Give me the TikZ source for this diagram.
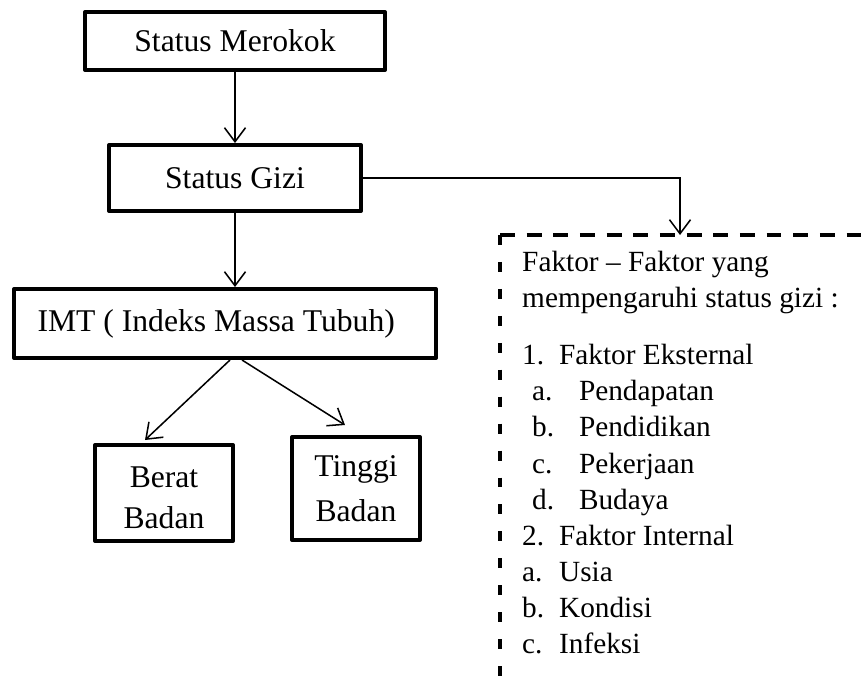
\documentclass[tikz,border=0pt]{standalone}
\usepackage{fontspec}
\setmainfont{Liberation Serif}
\usetikzlibrary{arrows.meta,calc}

\begin{document}
\begin{tikzpicture}[
        x=0.03cm, y=-0.03cm,
        >={Straight Barb[length=12pt,width=18pt]},
        box/.style={
            rectangle, line width=3.4pt, draw = black, line join=round, inner sep=0pt, align=center, font = \fontsize{27}{35}\selectfont
        },
        link/.style={line width=1.3pt, ->},
        topdash/.style={line width=3.4pt, dash pattern=on 12.75pt off 10pt},
        sidedash/.style={line width=2.6pt, dash pattern=on 8.5pt off 14.5pt},
    ]
        \useasboundingbox (0,0) rectangle (862,687);

        \node (merokok) [box,minimum width=9cm,minimum height=1.74cm] at (235,41) {Status Merokok};
        \node (gizi) [box,minimum width=7.56cm,minimum height=1.98cm] at (235,178) {Status Gizi};
        \path (merokok) edge[link] (gizi);

        \node (imt) [box,minimum width=12.66cm,minimum height=2.07cm] at (225,323.5) {IMT ( Indeks Massa Tubuh)\hspace*{15pt}};
        \draw[link] (gizi.south) -- (gizi.south |- imt.north);

        \node (berat) [box,minimum width=4.14cm,minimum height=2.88cm] at (164,493) {\raisebox{-6pt}[\height][\depth]{\begin{tabular}{@{}c@{}}Berat\\Badan\end{tabular}}};
        \draw[link] ($(imt.south)+(5,0)$) -- ($(berat.north)+(-19,-3)$);
        \node (tinggi) [box,minimum width=3.84cm,minimum height=3.09cm,font=\fontsize{27}{38}\selectfont] at (356,488.5) {Tinggi\\Badan};
        \draw[link] ($(imt.south)+(17,0)$) -- ($(tinggi.north)+(-11,-10)$);

        % box of factors, open at right and bottom
        \coordinate (corner) at (500,235);
        \coordinate (topEnd) at (862,235);
        \coordinate (sideEnd) at (500,687);
        \coordinate (faktorTop) at (680,235);
        \draw[topdash] (corner) -- (topEnd);
        \draw[sidedash] (corner) -- (sideEnd);
        \draw[link] (gizi.east) -| (faktorTop);

        \node (faktor) [anchor=north west,inner sep=0pt,align=left,font=\fontsize{25}{30.8}\selectfont] at (522,251) {Faktor -- Faktor yang\\
            mempengaruhi status gizi :\\[18pt]
            \makebox[31.5pt][l]{1.}Faktor Eksternal\\
            \hspace*{8.5pt}\makebox[40pt][l]{a.}Pendapatan\\
            \hspace*{8.5pt}\makebox[40pt][l]{b.}Pendidikan\\
            \hspace*{8.5pt}\makebox[40pt][l]{c.}Pekerjaan\\
            \hspace*{8.5pt}\makebox[40pt][l]{d.}Budaya\\
            \makebox[31.5pt][l]{2.}Faktor Internal\\
            \makebox[31.5pt][l]{a.}Usia\\
            \makebox[31.5pt][l]{b.}Kondisi\\
            \makebox[31.5pt][l]{c.}Infeksi};

    \end{tikzpicture}
\end{document}
